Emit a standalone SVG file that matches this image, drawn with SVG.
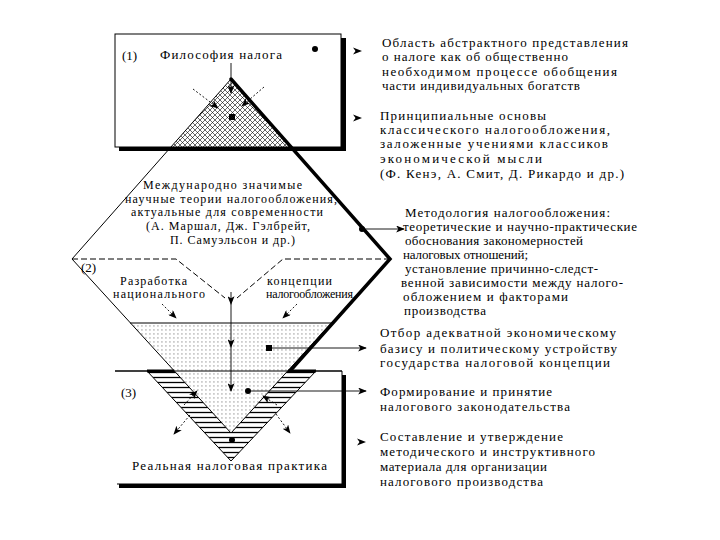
<svg xmlns="http://www.w3.org/2000/svg" width="720" height="540" viewBox="0 0 720 540">
<style>
text{font-family:"Liberation Serif","Times New Roman",serif;font-size:13px;fill:#000}
.sm{font-size:12px}
.thin{stroke:#000;stroke-width:1;fill:none}
.thick{stroke:#000;stroke-width:3.5;fill:none;stroke-linecap:round}
.arr{stroke:#000;stroke-width:0.9;fill:none;marker-end:url(#ah)}
.darr{stroke:#000;stroke-width:0.9;fill:none;stroke-dasharray:2 2;marker-end:url(#ah)}
.dash{stroke:#000;stroke-width:1;fill:none;stroke-dasharray:6 3}
.dot{fill:#000}
</style>
<defs>
<marker id="ah" viewBox="0 0 10 8" refX="9" refY="4" markerWidth="9" markerHeight="7" markerUnits="userSpaceOnUse" orient="auto">
<path d="M0,0 L10,4 L0,8 L2.5,4 z" fill="#000"/>
</marker>
<pattern id="cross" width="5" height="5" patternUnits="userSpaceOnUse">
<path d="M0,0 L5,5 M5,0 L0,5" stroke="#000" stroke-width="0.6"/>
</pattern>
<pattern id="dots" width="4" height="4" patternUnits="userSpaceOnUse">
<rect x="1.5" y="1.5" width="0.9" height="0.9" fill="#333"/>
</pattern>
<pattern id="hatch" width="10" height="5" patternUnits="userSpaceOnUse">
<path d="M0,2.5 H10" stroke="#000" stroke-width="1.3"/>
</pattern>
<path id="ahs" d="M-9,-3.5 L0,0 L-9,3.5 L-6.5,0 z"/>
</defs>
<rect width="720" height="540" fill="#fff"/>

<g id="box1">
<rect x="119" y="38" width="227" height="113" fill="#000"/>
<rect x="115" y="34" width="226" height="113" fill="#fff" stroke="#000" stroke-width="1"/>
<text x="122" y="60" font-size="14">(1)</text>
<text x="160" y="59" textLength="122" lengthAdjust="spacing">Философия налога</text>
<circle class="dot" cx="315" cy="49" r="3"/>
</g>

<g id="box3">
<rect x="119" y="375" width="227" height="113" fill="#000"/>
<rect x="115" y="371" width="227" height="113" fill="#fff"/>
<path class="thin" d="M115,371 H342 V484 H117"/>
</g>

<g id="diamond">
<polygon points="231,79 171,147 291,147" fill="url(#cross)"/>
<polygon points="147,371 316,371 231,461" fill="url(#hatch)" stroke="#000" stroke-width="1"/>
<polygon points="130.5,323 331.5,323 231,433" fill="#fff"/>
<polygon points="130.5,323 331.5,323 231,433" fill="url(#dots)"/>
<line class="thin" x1="130" y1="323" x2="332" y2="323"/>
<polygon class="thin" points="231,79 72,259 231,433 390,259"/>
<line class="thin" x1="115" y1="371" x2="342" y2="371"/>
<path class="thick" d="M231,79 L390,259 L290,371"/>
<path d="M147,371 H174 M288,371 H316" stroke="#000" stroke-width="3"/>
<path class="dash" d="M72,259 H176 L225,298 M390,259 H283 L237,298"/>
</g>

<g id="labels">
<text class="sm" x="143" y="189" textLength="159" lengthAdjust="spacing">Международно значимые</text>
<text class="sm" x="125" y="203" textLength="212" lengthAdjust="spacing">научные теории налогообложения,</text>
<text class="sm" x="131" y="216" textLength="192" lengthAdjust="spacing">актуальные для современности</text>
<text class="sm" x="146" y="230" textLength="164" lengthAdjust="spacing">(А. Маршал, Дж. Гэлбрейт,</text>
<text class="sm" x="170" y="244" textLength="125" lengthAdjust="spacing">П. Самуэльсон и др.)</text>
<text x="81" y="272" font-size="13">(2)</text>
<text class="sm" x="120" y="285" textLength="67" lengthAdjust="spacing">Разработка</text>
<text class="sm" x="113" y="298" textLength="92" lengthAdjust="spacing">национального</text>
<text class="sm" x="267" y="285" textLength="65" lengthAdjust="spacing">концепции</text>
<text class="sm" x="266" y="298" textLength="87" lengthAdjust="spacing">налогообложения</text>
<text x="121" y="397" font-size="14">(3)</text>
<text x="132" y="470" textLength="195" lengthAdjust="spacing">Реальная налоговая практика</text>
</g>

<g id="connectors">
<line class="arr" x1="231" y1="63" x2="231" y2="93"/>
<line class="darr" x1="193" y1="89" x2="218" y2="108"/>
<line class="darr" x1="264" y1="87" x2="242" y2="106"/>
<rect class="dot" x="229" y="114" width="6" height="6"/>
<use href="#ahs" x="362" y="51"/>
<use href="#ahs" x="362" y="118"/>
<circle class="dot" cx="362" cy="229" r="3"/>
<line class="arr" x1="362" y1="229" x2="404" y2="229"/>
<line class="arr" x1="231" y1="292" x2="231" y2="304"/>
<line class="arr" x1="231" y1="304" x2="231" y2="347"/>
<line class="arr" x1="231" y1="347" x2="231" y2="391"/>
<line class="darr" x1="162" y1="304" x2="176" y2="318"/>
<line class="darr" x1="297" y1="304" x2="283" y2="318"/>
<rect class="dot" x="266" y="345" width="6" height="6"/>
<line class="arr" x1="269" y1="348" x2="366" y2="348"/>
<circle class="dot" cx="248" cy="391" r="3"/>
<line class="arr" x1="248" y1="391" x2="366" y2="391"/>
<use href="#ahs" x="366" y="442"/>
<line class="darr" x1="184" y1="405" x2="197" y2="391"/>
<line class="darr" x1="277" y1="405" x2="263" y2="396"/>
<line class="darr" x1="190" y1="415" x2="174" y2="434"/>
<line class="darr" x1="276" y1="414" x2="290" y2="433"/>
<circle class="dot" cx="232" cy="440" r="3"/>
</g>

<g id="notes">
<text x="382" y="47" textLength="246" lengthAdjust="spacing">Область абстрактного представления</text>
<text x="382" y="61" textLength="186" lengthAdjust="spacing">о налоге как об общественно</text>
<text x="382" y="76" textLength="235" lengthAdjust="spacing">необходимом процессе обобщения</text>
<text x="382" y="90" textLength="198" lengthAdjust="spacing">части индивидуальных богатств</text>

<text x="380" y="120" textLength="166" lengthAdjust="spacing">Принципиальные основы</text>
<text x="380" y="134" textLength="230" lengthAdjust="spacing">классического налогообложения,</text>
<text x="380" y="148" textLength="228" lengthAdjust="spacing">заложенные учениями классиков</text>
<text x="380" y="163" textLength="162" lengthAdjust="spacing">экономической мысли</text>
<text x="380" y="178" textLength="244" lengthAdjust="spacing">(Ф. Кенэ, А. Смит, Д. Рикардо и др.)</text>

<text x="405" y="217" textLength="205" lengthAdjust="spacing">Методология налогообложения:</text>
<text x="403" y="231" textLength="234" lengthAdjust="spacing">теоретические и научно-практические</text>
<text x="405" y="245" textLength="178" lengthAdjust="spacing">обоснования закономерностей</text>
<text x="403" y="259" textLength="125" lengthAdjust="spacing">налоговых отношений;</text>
<text x="405" y="273" textLength="193" lengthAdjust="spacing">установление причинно-следст-</text>
<text x="401" y="287" textLength="222" lengthAdjust="spacing">венной зависимости между налого-</text>
<text x="403" y="301" textLength="165" lengthAdjust="spacing">обложением и факторами</text>
<text x="404" y="315" textLength="82" lengthAdjust="spacing">производства</text>

<text x="380" y="337" textLength="236" lengthAdjust="spacing">Отбор адекватной экономическому</text>
<text x="380" y="353" textLength="237" lengthAdjust="spacing">базису и политическому устройству</text>
<text x="380" y="367" textLength="230" lengthAdjust="spacing">государства налоговой концепции</text>

<text x="380" y="396" textLength="172" lengthAdjust="spacing">Формирование и принятие</text>
<text x="380" y="411" textLength="190" lengthAdjust="spacing">налогового законодательства</text>

<text x="380" y="441" textLength="183" lengthAdjust="spacing">Составление и утверждение</text>
<text x="380" y="456" textLength="215" lengthAdjust="spacing">методического и инструктивного</text>
<text x="380" y="471" textLength="167" lengthAdjust="spacing">материала для организации</text>
<text x="380" y="486" textLength="163" lengthAdjust="spacing">налогового производства</text>
</g>
</svg>
